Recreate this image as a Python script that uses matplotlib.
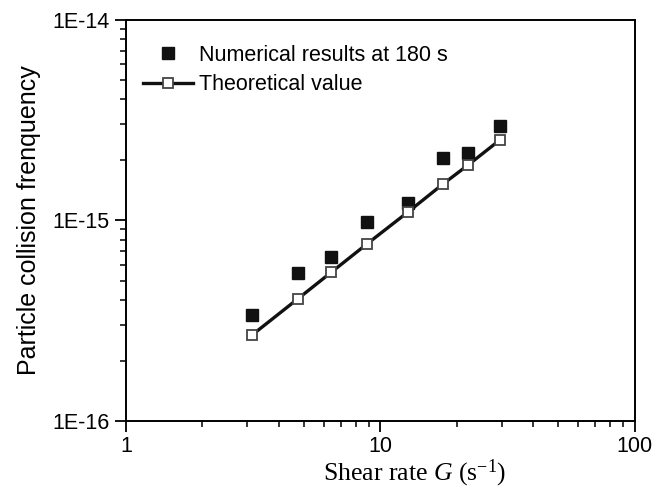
import matplotlib
matplotlib.use("Agg")
import matplotlib.pyplot as plt
from matplotlib.ticker import LogLocator, NullFormatter, FixedFormatter, FixedLocator

# shear rate G (1/s)
shear_rate = [3.12, 4.73, 6.41, 8.83, 12.86, 17.65, 22.13, 29.5]
# numerical results at 180 s
numerical = [3.36e-16, 5.48e-16, 6.58e-16, 9.84e-16, 1.215e-15, 2.05e-15, 2.156e-15, 2.96e-15]
# theoretical value
theoretical = [2.67e-16, 4.05e-16, 5.50e-16, 7.59e-16, 1.10e-15, 1.516e-15, 1.884e-15, 2.51e-15]

x_ticks = [1, 10, 100]
x_labels = ["1", "10", "100"]
y_ticks = [1e-16, 1e-15, 1e-14]
y_labels = ["1E-16", "1E-15", "1E-14"]

plt.rcParams["font.family"] = ["Liberation Sans", "DejaVu Sans"]
plt.rcParams["mathtext.fontset"] = "custom"
plt.rcParams["mathtext.rm"] = "Liberation Serif"
plt.rcParams["mathtext.it"] = "Liberation Serif:italic"

fig = plt.figure(figsize=(6.66, 4.94), dpi=100)
ax = fig.add_axes([0.189, 0.1478, 0.764, 0.8127])

ax.plot(shear_rate, numerical, "s", color="#111111", markersize=8,
        markeredgecolor="#111111", label="Numerical results at 180 s")
ax.plot(shear_rate, theoretical, "-s", color="#111111", linewidth=2.4,
        markersize=7.5, markerfacecolor="white", markeredgecolor="#444444",
        markeredgewidth=1.3, label="Theoretical value")

ax.set_xscale("log")
ax.set_yscale("log")
ax.set_xlim(1, 100)
ax.set_ylim(1e-16, 1e-14)

ax.xaxis.set_major_locator(FixedLocator(x_ticks))
ax.xaxis.set_major_formatter(FixedFormatter(x_labels))
ax.yaxis.set_major_locator(FixedLocator(y_ticks))
ax.yaxis.set_major_formatter(FixedFormatter(y_labels))
ax.xaxis.set_minor_locator(LogLocator(base=10, subs=range(2, 10)))
ax.yaxis.set_minor_locator(LogLocator(base=10, subs=range(2, 10)))
ax.xaxis.set_minor_formatter(NullFormatter())
ax.yaxis.set_minor_formatter(NullFormatter())

ax.tick_params(which="major", direction="out", length=8, width=1.3, labelsize=15.5,
               top=False, right=False, colors="black")
ax.tick_params(which="minor", direction="out", length=4.5, width=1.1,
               top=False, right=False)
ax.tick_params(axis="x", pad=3)
ax.tick_params(axis="y", pad=4)
for s in ax.spines.values():
    s.set_linewidth(1.4)

ax.set_xlabel(r"Shear rate $G$ (s$^{\mathrm{-1}}$)", family=["Liberation Serif", "DejaVu Serif"],
              fontsize=18.5)
ax.xaxis.set_label_coords(0.568, -0.092)
ax.set_ylabel("Particle collision frenquency", fontsize=18, labelpad=8)

ax.legend(loc="upper left", frameon=False, fontsize=15.5, handlelength=2.3,
          handletextpad=0.3, borderaxespad=0.4, labelspacing=0.4,
          bbox_to_anchor=(0.0, 0.98))

fig.savefig("out.png", dpi=100)
